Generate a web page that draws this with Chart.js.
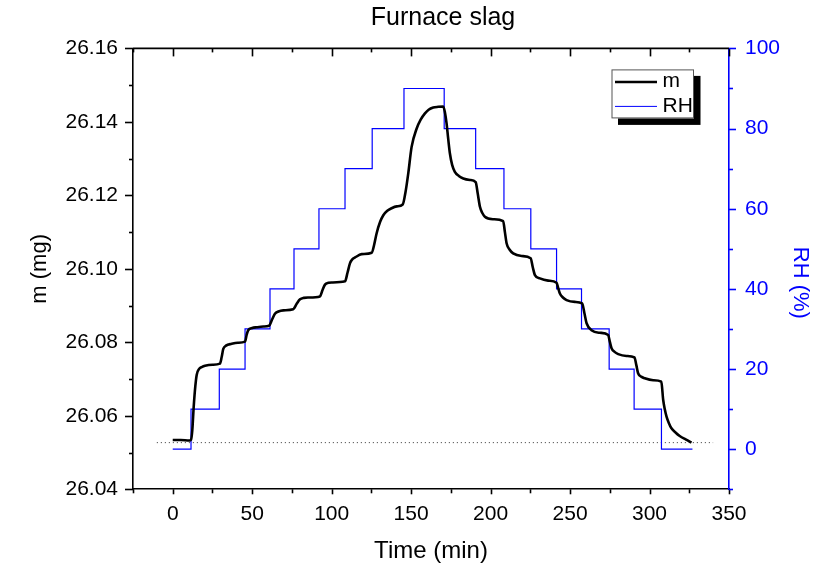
<!DOCTYPE html>
<html>
<head>
<meta charset="utf-8">
<script src="https://cdn.jsdelivr.net/npm/chart.js@4/dist/chart.umd.min.js"></script>
<style>
html,body{margin:0;padding:0;background:#fff;}
canvas{display:block;}
</style>
</head>
<body>
<canvas id="c" width="830" height="570"></canvas>
<script>
// ---------- data ----------
const chartTitle = 'Furnace slag';
const xAxisTitle = 'Time (min)';
const yAxisTitle = 'm (mg)';
const y2AxisTitle = 'RH (%)';
const seriesLabels = ['m', 'RH'];

const timeM = [0, 5, 10.5, 11.5, 12.3, 13.2, 14.2, 15.1, 16.5, 18.5, 20.3, 25, 29.7, 30.8, 31.8, 33.5, 37.1, 41, 45.5, 46.5, 47.5, 50, 52.8, 57, 60.6, 62.5, 64.3, 66.5, 69.6, 75.8, 78, 80.1, 82.5, 85.3, 92.6, 94.2, 95.8, 98, 100, 108.4, 110, 111.5, 113, 114.7, 118.9, 125.2, 126.7, 128.3, 130.5, 132.5, 135, 137.7, 141, 144.7, 146.5, 148.2, 150.3, 153.5, 156, 158.7, 161, 163.9, 167, 170.2, 171.3, 172.3, 173.3, 174.4, 175.8, 177.5, 180, 182.8, 187, 190.6, 191.9, 193.3, 194.8, 196.4, 201.6, 207.9, 209, 210.1, 212, 214.2, 219.5, 225.2, 226.5, 227.9, 231, 236.2, 241.5, 242.5, 243.6, 245.5, 247.8, 253, 257.6, 259, 260.4, 263.5, 268.7, 274, 275, 276.1, 278, 280.3, 285.5, 290.5, 291.7, 292.8, 295, 297, 302.3, 307.4, 308.6, 309.6, 310.7, 312.2, 313.8, 316.5, 319, 323, 326.4];
const massM = [26.0534, 26.0534, 26.0533, 26.0535, 26.0560, 26.0625, 26.0680, 26.0712, 26.0727, 26.0733, 26.0736, 26.0739, 26.0742, 26.0760, 26.0782, 26.0791, 26.0796, 26.0799, 26.0802, 26.0820, 26.0833, 26.0839, 26.0841, 26.0843, 26.0845, 26.0862, 26.0878, 26.0884, 26.0887, 26.0890, 26.0905, 26.0917, 26.0921, 26.0922, 26.0925, 26.0942, 26.0957, 26.0962, 26.0963, 26.0966, 26.0990, 26.1015, 26.1026, 26.1031, 26.1040, 26.1044, 26.1065, 26.1097, 26.1128, 26.1146, 26.1158, 26.1165, 26.1170, 26.1175, 26.1210, 26.1260, 26.1332, 26.1382, 26.1406, 26.1423, 26.1433, 26.1439, 26.1441, 26.1442, 26.1425, 26.1396, 26.1355, 26.1314, 26.1283, 26.1264, 26.1253, 26.1246, 26.1242, 26.1236, 26.1205, 26.1169, 26.1152, 26.1142, 26.1135, 26.1130, 26.1100, 26.1069, 26.1052, 26.1042, 26.1035, 26.1029, 26.1005, 26.0983, 26.0974, 26.0968, 26.0962, 26.0948, 26.0933, 26.0922, 26.0915, 26.0910, 26.0906, 26.0880, 26.0852, 26.0833, 26.0826, 26.0820, 26.0802, 26.0784, 26.0774, 26.0768, 26.0763, 26.0759, 26.0738, 26.0716, 26.0706, 26.0702, 26.0697, 26.0693, 26.0643, 26.0618, 26.0598, 26.0580, 26.0566, 26.0554, 26.0545, 26.0535, 26.0527];

const timeRH = [0, 11.5, 29.3, 45.5, 61.2, 76.3, 92.0, 108.4, 125.5, 145.5, 170.8, 190.6, 208.4, 225.3, 241.5, 257.2, 274.6, 290.3, 307.5, 327];
const valueRH = [0, 10, 20, 30, 40, 50, 60, 70, 80, 90, 80, 70, 60, 50, 40, 30, 20, 10, 0, 0];

const baselineT = [-10, 340];
const baselineM = [26.0527, 26.0527];

const xTicks = [0, 50, 100, 150, 200, 250, 300, 350];
const yTicks = [26.04, 26.06, 26.08, 26.10, 26.12, 26.14, 26.16];
const y2Ticks = [0, 20, 40, 60, 80, 100];

// ---------- chart ----------
const FONT = "'Liberation Sans', Arial, Helvetica, sans-serif";
Chart.defaults.font.family = FONT;
Chart.defaults.font.size = 21;
Chart.defaults.color = '#000';

const toXY = (xs, ys) => xs.map((x, i) => ({x: x, y: ys[i]}));

const decorPlugin = {
  id: 'decor',
  afterLayout(chart) {
    const t = chart.titleBlock;
    if (t) { t.left += 12; t.right += 12; }
    const s = chart.scales.y1;
    if (s && !s._titleShifted) {
      const orig = s.drawTitle;
      s.drawTitle = function () {
        this.ctx.save();
        this.ctx.translate(0, 14);
        orig.apply(this, arguments);
        this.ctx.restore();
      };
      s._titleShifted = true;
    }
  },
  afterDraw(chart) {
    const ctx = chart.ctx;
    const {left, right, top, bottom} = chart.chartArea;
    const xs = chart.scales.x, ys = chart.scales.y, y2 = chart.scales.y1;
    ctx.save();
    const line = (x1, y1, x2, y2_) => { ctx.beginPath(); ctx.moveTo(x1, y1); ctx.lineTo(x2, y2_); ctx.stroke(); };
    ctx.strokeStyle = '#000';
    ctx.lineWidth = 1.6;
    // top frame
    line(left, top, right, top);
    // x ticks (bottom outward, top inward)
    for (let v = -25; v <= 350; v += 25) {
      const px = Math.round(xs.getPixelForValue(v)) + 0.5;
      const major = v % 50 === 0;
      line(px, bottom, px, bottom + (major ? 5 : 4));
      line(px, top, px, top + (major ? 8 : 4));
    }
    // left y ticks
    for (let i = 0; i <= 12; i++) {
      const v = 26.04 + i * 0.01;
      const py = Math.round(ys.getPixelForValue(v)) + 0.5;
      line(left - (i % 2 === 0 ? 8 : 4), py, left, py);
    }
    // right y ticks (blue)
    ctx.strokeStyle = '#0000ff';
    for (let v = -10; v <= 100; v += 10) {
      const py = Math.round(y2.getPixelForValue(v)) + 0.5;
      line(right, py, right + (v % 20 === 0 ? 7 : 4), py);
    }
    // legend
    const bx = right - 117.5, by = top + 21, bw = 82.5, bh = 49;
    ctx.fillStyle = '#000';
    ctx.fillRect(bx + 6.5, by + 6.5, bw, bh);
    ctx.fillStyle = '#fff';
    ctx.fillRect(bx, by, bw, bh);
    ctx.strokeStyle = '#555';
    ctx.lineWidth = 1;
    ctx.strokeRect(bx + 0.5, by + 0.5, bw - 1, bh - 1);
    ctx.strokeStyle = '#000';
    ctx.lineWidth = 2.5;
    line(bx + 3.5, by + 12.5, bx + 45.5, by + 12.5);
    ctx.strokeStyle = '#0000ff';
    ctx.lineWidth = 1;
    line(bx + 3.5, by + 37, bx + 45.5, by + 37);
    ctx.fillStyle = '#000';
    ctx.font = '21px ' + FONT;
    ctx.textBaseline = 'middle';
    ctx.textAlign = 'left';
    ctx.fillText(seriesLabels[0], bx + 51, by + 12);
    ctx.fillText(seriesLabels[1], bx + 51, by + 37);
    ctx.restore();
  }
};

new Chart(document.getElementById('c'), {
  type: 'line',
  data: {
    datasets: [
      {
        label: seriesLabels[0],
        data: toXY(timeM, massM),
        yAxisID: 'y',
        borderColor: '#000',
        borderWidth: 2.6,
        pointRadius: 0,
        cubicInterpolationMode: 'monotone',
        fill: false
      },
      {
        label: seriesLabels[1],
        data: toXY(timeRH, valueRH),
        yAxisID: 'y1',
        borderColor: '#0000ff',
        borderWidth: 1.2,
        pointRadius: 0,
        stepped: true,
        fill: false
      },
      {
        label: 'baseline',
        data: toXY(baselineT, baselineM),
        yAxisID: 'y',
        borderColor: '#333',
        borderWidth: 1,
        borderDash: [1, 3],
        pointRadius: 0,
        fill: false
      }
    ]
  },
  options: {
    responsive: false,
    devicePixelRatio: 1,
    animation: false,
    layout: {padding: 0},
    plugins: {
      legend: {display: false},
      tooltip: {enabled: false},
      title: {
        display: true,
        text: chartTitle,
        color: '#000',
        fullSize: false,
        font: {size: 25, weight: 'normal', family: FONT},
        padding: {top: 3, bottom: 15.4}
      }
    },
    scales: {
      x: {
        type: 'linear',
        position: 'bottom',
        min: -25,
        max: 350,
        afterBuildTicks: s => { s.ticks = xTicks.map(v => ({value: v})); },
        afterFit: s => { s.height = 80.7; },
        ticks: {padding: 12, autoSkip: false, maxRotation: 0, color: '#000', callback: v => String(v)},
        grid: {display: false, drawTicks: false},
        border: {display: true, color: '#000', width: 1.6},
        title: {display: true, text: xAxisTitle, color: '#000', font: {size: 24}, padding: {top: 0, bottom: 4}}
      },
      y: {
        type: 'linear',
        position: 'left',
        min: 26.04,
        max: 26.16,
        afterBuildTicks: s => { s.ticks = yTicks.map(v => ({value: v})); },
        afterFit: s => { s.width = 133; },
        ticks: {padding: 15, color: '#000', callback: v => Number(v).toFixed(2)},
        grid: {display: false, drawTicks: false},
        border: {display: true, color: '#000', width: 1.6},
        title: {display: true, text: yAxisTitle, color: '#000', font: {size: 22}, padding: {top: 27, bottom: 0}}
      },
      y1: {
        type: 'linear',
        position: 'right',
        min: -10,
        max: 100,
        afterBuildTicks: s => { s.ticks = y2Ticks.map(v => ({value: v})); },
        afterFit: s => { s.width = 101; },
        ticks: {padding: 16, color: '#0000ff', callback: v => String(v)},
        grid: {display: false, drawTicks: false},
        border: {display: true, color: '#0000ff', width: 1.6},
        title: {display: true, text: y2AxisTitle, color: '#0000ff', font: {size: 22}, padding: {top: 17, bottom: 0}}
      }
    }
  },
  plugins: [decorPlugin]
});
</script>
</body>
</html>
